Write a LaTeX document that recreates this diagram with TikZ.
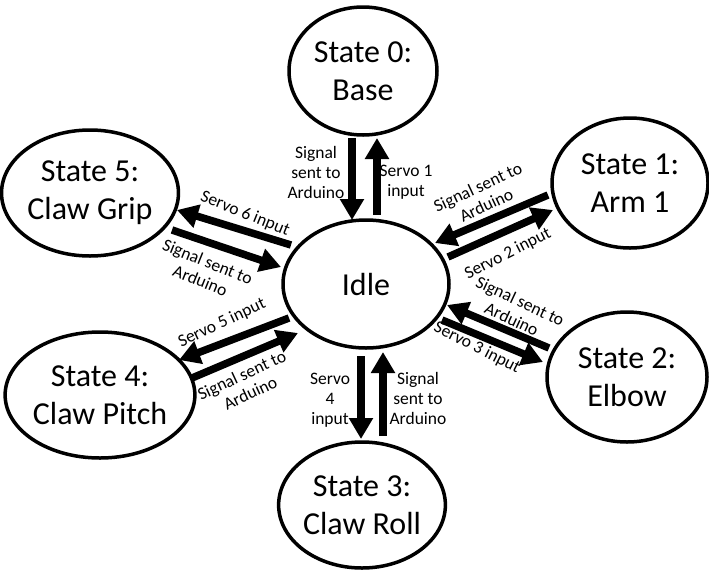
\documentclass[tikz,border=0pt]{standalone}
\usepackage{fontspec}
\setmainfont{Carlito}
\usetikzlibrary{shapes.geometric,arrows.meta}
\begin{document}
\begin{tikzpicture}[x=1pt,y=-1pt,
  state/.style={draw, line width=3.5pt, ellipse, inner sep=0pt, align=center, font=\fontsize{32}{38}\selectfont},
  flow/.style={line width=7.5pt, -{Triangle[length=21pt,width=23pt]}},
  lbl/.style={align=center, font=\fontsize{17.5}{20}\selectfont, inner sep=0pt}]
\useasboundingbox (0,0) rectangle (709,571);

\node[state, minimum width=148pt, minimum height=128pt] (s0) at (363,71) {State 0:\\Base};
\node[state, minimum width=166pt, minimum height=128pt] (idle) at (366,284) {Idle};
\node[state, minimum width=156pt, minimum height=130pt] (s1) at (630,183) {State 1:\\Arm 1};
\node[state, minimum width=160pt, minimum height=130pt] (s2) at (627,377) {State 2:\\Elbow};
\node[state, minimum width=164pt, minimum height=126pt] (s3) at (362,505) {State 3:\\Claw Roll};
\node[state, minimum width=166pt, minimum height=126pt] (s4) at (100,395) {State 4:\\Claw Pitch};
\node[state, minimum width=166pt, minimum height=126pt] (s5) at (90,193) {State 5:\\Claw Grip};

% arrow end points
\coordinate (a0ds) at (352,138); \coordinate (a0dt) at (352,220);
\coordinate (a0us) at (377,215); \coordinate (a0ut) at (377,138);
\coordinate (a1is) at (548,195); \coordinate (a1it) at (435,243);
\coordinate (a1os) at (448,257); \coordinate (a1ot) at (553,210);
\coordinate (a2is) at (549,348); \coordinate (a2it) at (447,305);
\coordinate (a2os) at (442,320); \coordinate (a2ot) at (543,362);
\coordinate (a3ds) at (361,356); \coordinate (a3dt) at (361,439);
\coordinate (a3us) at (383,436); \coordinate (a3ut) at (383,352);
\coordinate (a4os) at (289,318); \coordinate (a4ot) at (179,360);
\coordinate (a4is) at (192,378); \coordinate (a4it) at (298,333);
\coordinate (a5os) at (291,245); \coordinate (a5ot) at (177,210);
\coordinate (a5is) at (172,230); \coordinate (a5it) at (281,267);

\draw[flow] (a0ds) -- (a0dt);
\draw[flow] (a0us) -- (a0ut);
\draw[flow] (a1is) -- (a1it);
\draw[flow] (a1os) -- (a1ot);
\draw[flow] (a2is) -- (a2it);
\draw[flow] (a2os) -- (a2ot);
\draw[flow] (a3ds) -- (a3dt);
\draw[flow] (a3us) -- (a3ut);
\draw[flow] (a4os) -- (a4ot);
\draw[flow] (a4is) -- (a4it);
\draw[flow] (a5os) -- (a5ot);
\draw[flow] (a5is) -- (a5it);

\node[lbl] (l0d) at (316,172) {Signal\\sent to\\Arduino};
\node[lbl] (l0u) at (406,182) {Servo 1\\input};
\node[lbl, rotate=25] (l1i) at (482,196) {Signal sent to\\Arduino};
\node[lbl, rotate=27] (l1o) at (508,254) {Servo 2 input};
\node[lbl, rotate=-25] (l2i) at (516,310) {Signal sent to\\Arduino};
\node[lbl, rotate=-27] (l2o) at (477,348) {Servo 3 input};
\node[lbl] (l3d) at (330,400) {Servo\\4\\input};
\node[lbl] (l3u) at (418,398) {Signal\\sent to\\Arduino};
\node[lbl, rotate=25] (l4o) at (222,323) {Servo 5 input};
\node[lbl, rotate=25] (l4i) at (246,384) {Signal sent to\\Arduino};
\node[lbl, rotate=-22] (l5o) at (245,214) {Servo 6 input};
\node[lbl, rotate=-22] (l5i) at (204,271) {Signal sent to\\Arduino};
\end{tikzpicture}
\end{document}
